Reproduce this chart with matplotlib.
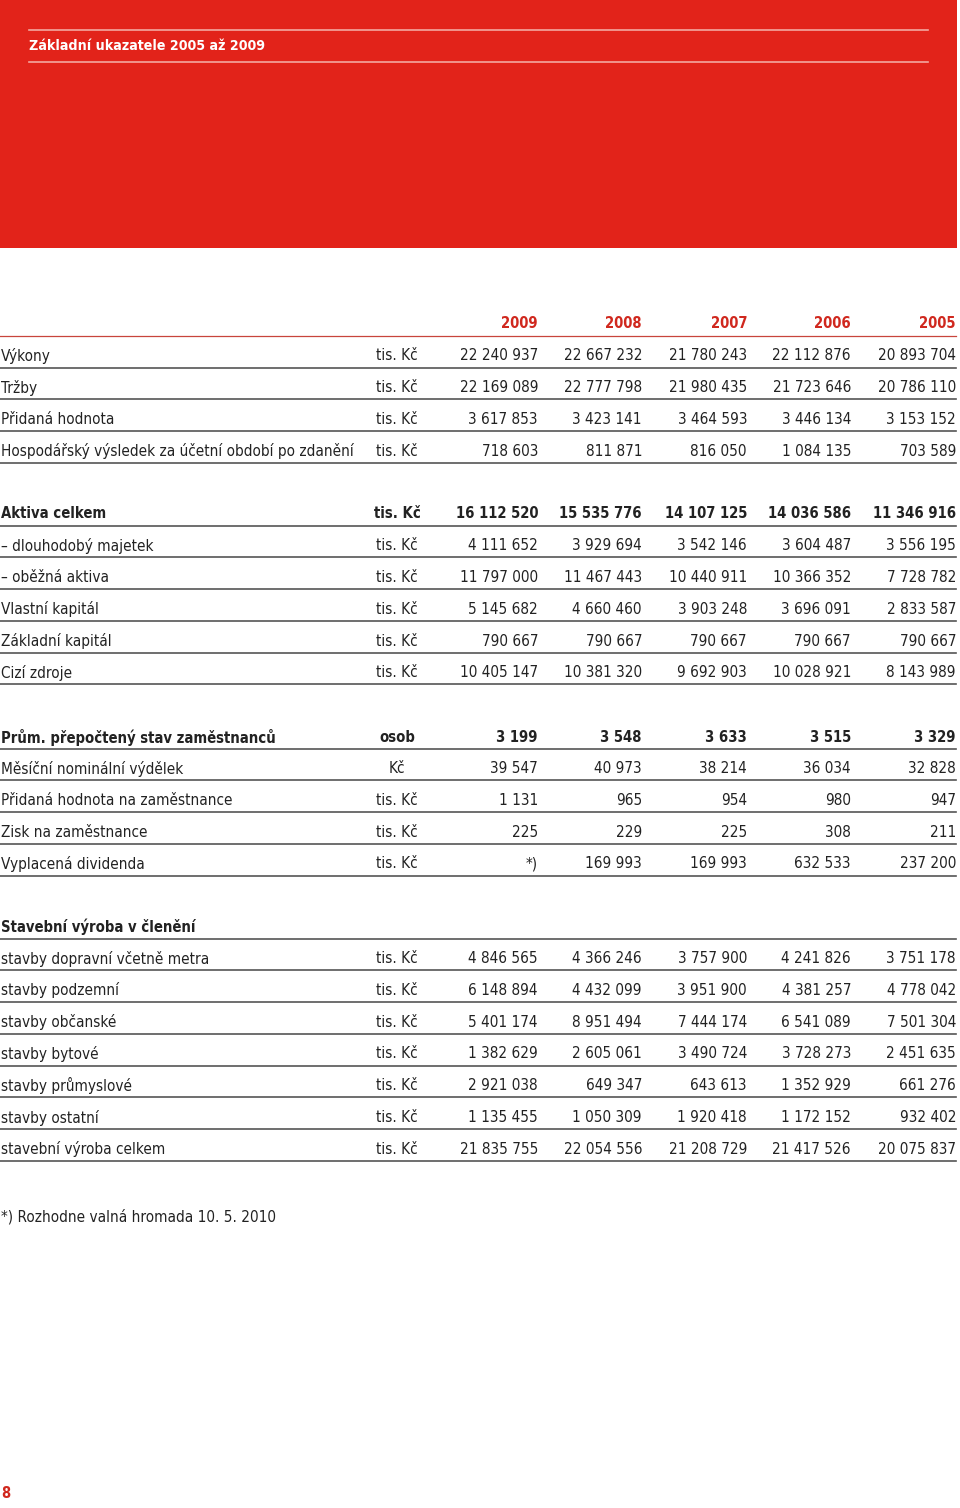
import matplotlib
matplotlib.use("Agg")
import matplotlib.pyplot as plt
from matplotlib.patches import Rectangle

plt.rcParams['font.family'] = ['DejaVu Sans']
plt.rcParams['font.stretch'] = 'condensed'

RED = '#e2231a'
YEAR_RED = '#d0281e'
LINE = '#555555'
INK = '#222222'

title = "Základní ukazatele 2005 až 2009"
years = ['2009', '2008', '2007', '2006', '2005']

# group 1
g1_labels = ["Výkony", "Tržby", "Přidaná hodnota",
             "Hospodářský výsledek za účetní období po zdanění"]
g1_units = ["tis. Kč"] * 4
g1_values = [
    [22240937, 22667232, 21780243, 22112876, 20893704],
    [22169089, 22777798, 21980435, 21723646, 20786110],
    [3617853, 3423141, 3464593, 3446134, 3153152],
    [718603, 811871, 816050, 1084135, 703589],
]

# group 2
g2_labels = ["Aktiva celkem", "– dlouhodobý majetek", "– oběžná aktiva",
             "Vlastní kapitál", "Základní kapitál", "Cizí zdroje"]
g2_units = ["tis. Kč"] * 6
g2_values = [
    [16112520, 15535776, 14107125, 14036586, 11346916],
    [4111652, 3929694, 3542146, 3604487, 3556195],
    [11797000, 11467443, 10440911, 10366352, 7728782],
    [5145682, 4660460, 3903248, 3696091, 2833587],
    [790667, 790667, 790667, 790667, 790667],
    [10405147, 10381320, 9692903, 10028921, 8143989],
]

# group 3
g3_labels = ["Prům. přepočtený stav zaměstnanců", "Měsíční nominální výdělek",
             "Přidaná hodnota na zaměstnance", "Zisk na zaměstnance",
             "Vyplacená dividenda"]
g3_units = ["osob", "Kč", "tis. Kč", "tis. Kč", "tis. Kč"]
g3_values = [
    [3199, 3548, 3633, 3515, 3329],
    [39547, 40973, 38214, 36034, 32828],
    [1131, 965, 954, 980, 947],
    [225, 229, 225, 308, 211],
    [None, 169993, 169993, 632533, 237200],
]

# group 4
g4_header = "Stavební výroba v členění"
g4_labels = ["stavby dopravní včetně metra", "stavby podzemní", "stavby občanské",
             "stavby bytové", "stavby průmyslové", "stavby ostatní",
             "stavební výroba celkem"]
g4_units = ["tis. Kč"] * 7
g4_values = [
    [4846565, 4366246, 3757900, 4241826, 3751178],
    [6148894, 4432099, 3951900, 4381257, 4778042],
    [5401174, 8951494, 7444174, 6541089, 7501304],
    [1382629, 2605061, 3490724, 3728273, 2451635],
    [2921038, 649347, 643613, 1352929, 661276],
    [1135455, 1050309, 1920418, 1172152, 932402],
    [21835755, 22054556, 21208729, 21417526, 20075837],
]

footnote = "*) Rozhodne valná hromada 10. 5. 2010"
page_no = "8"


def fmt(v):
    if v is None:
        return "*)"
    return f"{v:,}".replace(",", " ")


fig = plt.figure(figsize=(9.6, 15.08), dpi=100)
ax = fig.add_axes([0, 0, 1, 1])
ax.set_xlim(0, 960)
ax.set_ylim(1508, 0)
ax.axis('off')

# red banner
ax.add_patch(Rectangle((0, 0), 957, 248, color=RED, lw=0))
ax.plot([29, 928], [30, 30], color='#f4a8a0', lw=1.2)
ax.plot([29, 928], [62, 62], color='#f4a8a0', lw=1.2)
ax.text(29, 46, title, color='white', fontsize=10.2, fontweight='bold',
        va='center', ha='left')

col_x = [538, 642, 747, 851, 956]
unit_x = 397
fs = 11
fs_bold = 10.6
step = 31.75

for x, yr in zip(col_x, years):
    ax.text(x, 324, yr, color=YEAR_RED, fontsize=fs_bold, fontweight='bold',
            ha='right', va='center')
ax.plot([0, 956], [335.5, 335.5], color='#c8453c', lw=0.9)


def draw_rows(y0, labels, units, values, bold_first=False):
    for i, (lab, unit, vals) in enumerate(zip(labels, units, values)):
        y = y0 + i * step
        bold = bold_first and i == 0
        w = 'bold' if bold else 'normal'
        s = fs_bold if bold else fs
        ax.text(1, y, lab, fontsize=s, fontweight=w, ha='left', va='center',
                color=INK)
        ax.text(unit_x, y, unit, fontsize=s, fontweight=w, ha='center',
                va='center', color=INK)
        for x, v in zip(col_x, vals):
            ax.text(x, y, fmt(v), fontsize=s, fontweight=w, ha='right',
                    va='center', color=INK)
        ax.plot([0, 956], [y + 11.5, y + 11.5], color=LINE, lw=1.2)


draw_rows(356, g1_labels, g1_units, g1_values)
draw_rows(514, g2_labels, g2_units, g2_values, bold_first=True)
draw_rows(737, g3_labels, g3_units, g3_values, bold_first=True)

ax.text(1, 927, g4_header, fontsize=fs_bold, fontweight='bold', ha='left',
        va='center', color=INK)
ax.plot([0, 956], [938.5, 938.5], color=LINE, lw=1.2)
draw_rows(927 + step, g4_labels, g4_units, g4_values)

ax.text(1, 1217, footnote, fontsize=fs, ha='left', va='center', color=INK)
ax.text(1, 1494, page_no, fontsize=fs_bold, fontweight='bold', ha='left',
        va='center', color=YEAR_RED)

fig.savefig("out.png", dpi=100)
